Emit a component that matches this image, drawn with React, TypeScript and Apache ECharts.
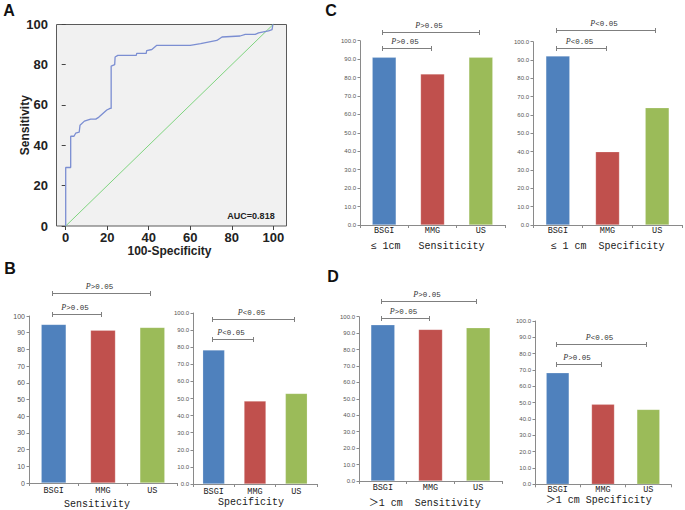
import React, { useEffect, useRef } from "react";
import * as echarts from "echarts";

// ---- Panel A: ROC curve ----
const ROC_X = [0, 0, 2.4, 2.4, 4, 4.8, 6.5, 6.9, 9, 12, 14.5, 16, 19.8, 21.4, 21.9, 21.9, 23.6, 23.8, 25.1, 34, 34.2, 38.8, 39, 41.5, 43.9, 60, 65, 72.8, 75.3, 84, 86.5, 91.3, 92.9, 97.7, 99.4, 99.8, 100];
const ROC_Y = [0, 29, 29, 44.5, 44.5, 46, 46.5, 50, 52, 53, 53, 54, 57.5, 58.3, 58.3, 79.3, 80, 83.8, 84.6, 84.6, 85.6, 85.6, 87, 87.5, 89.6, 89.6, 90.4, 92, 93.7, 94.2, 95, 95, 95.7, 96.7, 97.4, 100, 100];
const DIAG_X = [0, 100];
const DIAG_Y = [0, 100];
const AUC_TEXT = "AUC=0.818";

// ---- Bar panels ----
const MODALITIES = ["BSGI", "MMG", "US"];
const BAR_COLORS = ["#4f81bd", "#c0504d", "#9bbb59"];
const B_SENS = [95, 91.5, 93.2];
const B_SPEC = [78.4, 48.5, 53];
const C_SENS = [91, 82, 91];
const C_SPEC = [92.2, 40, 64];
const D_SENS = [95.1, 92.3, 93.3];
const D_SPEC = [68.3, 49, 45.9];
const PANEL_TITLES = ["Sensitivity", "Specificity", "≤ 1cm   Sensiticity", "≤ 1 cm  Specificity", "＞1 cm  Sensitivity", "＞1 cm Specificity"];
// brackets: [fromIndex, toIndex, level (axis units), label]
const B_SENS_BR: [number, number, number, string][] = [[0, 2, 114, "P>0.05"], [0, 1, 101.2, "P>0.05"]];
const B_SPEC_BR: [number, number, number, string][] = [[0, 2, 96.3, "P<0.05"], [0, 1, 84.6, "P<0.05"]];
const C_SENS_BR: [number, number, number, string][] = [[0, 2, 104.6, "P>0.05"], [0, 1, 96.2, "P>0.05"]];
const C_SPEC_BR: [number, number, number, string][] = [[0, 2, 106.4, "P<0.05"], [0, 1, 96.4, "P<0.05"]];
const D_SENS_BR: [number, number, number, string][] = [[0, 2, 109.7, "P>0.05"], [0, 1, 99.4, "P>0.05"]];
const D_SPEC_BR: [number, number, number, string][] = [[0, 2, 85.7, "P<0.05"], [0, 1, 73.7, "P>0.05"]];
const PANEL_LETTERS = ["A", "B", "C", "D"];

const PANELS = [
  { values: B_SENS, brackets: B_SENS_BR, title: PANEL_TITLES[0], layout: { left: 29, top: 316, width: 148, height: 167 }, barWidth: 25, intLabels: true, labelMargin: 4, titlePos: [97, 504] },
  { values: B_SPEC, brackets: B_SPEC_BR, title: PANEL_TITLES[1], layout: { left: 193, top: 313, width: 124, height: 171 }, barWidth: 22, intLabels: false, labelMargin: 4, titlePos: [251, 502] },
  { values: C_SENS, brackets: C_SENS_BR, title: PANEL_TITLES[2], layout: { left: 360, top: 40.7, width: 145, height: 184.3 }, barWidth: 24, intLabels: false, labelMargin: 1.5, titlePos: [427.5, 246] },
  { values: C_SPEC, brackets: C_SPEC_BR, title: PANEL_TITLES[3], layout: { left: 533, top: 41.7, width: 149, height: 183.3 }, barWidth: 24, intLabels: false, labelMargin: 1.5, titlePos: [607.5, 246] },
  { values: D_SENS, brackets: D_SENS_BR, title: PANEL_TITLES[4], layout: { left: 359, top: 316.7, width: 143, height: 164.3 }, barWidth: 24, intLabels: false, labelMargin: 3, titlePos: [424.7, 503] },
  { values: D_SPEC, brackets: D_SPEC_BR, title: PANEL_TITLES[5], layout: { left: 535, top: 321, width: 136, height: 163.3 }, barWidth: 23, intLabels: false, labelMargin: 1, titlePos: [598.8, 500.7] },
];
const LETTER_POS = [[9, 10], [10, 268], [331, 10], [333, 276]];

const SANS = "'Liberation Sans', Arial, sans-serif";
const MONO = "'Liberation Mono', 'Noto Sans CJK SC', monospace";
const AXIS_GRAY = "#8a8a8a";

export default function App() {
  const ref = useRef<HTMLDivElement>(null);
  useEffect(() => {
    if (!ref.current) return;
    const chart = echarts.init(ref.current, null, { renderer: "svg" });

    const grids: any[] = [
      { left: 65.7, top: 24.3, width: 207.6, height: 201.7, outerBoundsMode: "none", containLabel: false },
    ];
    const xAxes: any[] = [
      {
        type: "value", gridIndex: 0, min: 0, max: 100, interval: 20,
        axisLine: { show: false },
        axisTick: { show: true, length: 4, lineStyle: { color: "#444" } },
        axisLabel: { show: true, margin: 5, fontSize: 13, fontWeight: "bold", fontFamily: SANS, color: "#222", showMinLabel: true, showMaxLabel: true },
        splitLine: { show: false },
        name: "100-Specificity", nameLocation: "middle", nameGap: 19, nameMoveOverlap: false,
        nameTextStyle: { fontSize: 12, fontWeight: "bold", fontFamily: SANS, color: "#222" },
      },
    ];
    const yAxes: any[] = [
      {
        type: "value", gridIndex: 0, min: 0, max: 100, interval: 20, offset: 9.7,
        axisLine: { show: false },
        axisTick: { show: true, length: 4, lineStyle: { color: "#444" } },
        axisLabel: { show: true, margin: 8, fontSize: 13, fontWeight: "bold", fontFamily: SANS, color: "#222", showMinLabel: true, showMaxLabel: true },
        splitLine: { show: false },
        name: "Sensitivity", nameLocation: "middle", nameGap: 25, nameMoveOverlap: false,
        nameTextStyle: { fontSize: 12, fontWeight: "bold", fontFamily: SANS, color: "#222" },
      },
    ];
    const series: any[] = [
      {
        type: "line", xAxisIndex: 0, yAxisIndex: 0, z: 3,
        data: DIAG_X.map((x, i) => [x, DIAG_Y[i]]),
        showSymbol: false, symbol: "none", clip: false,
        lineStyle: { color: "#7fd47f", width: 1 },
      },
      {
        type: "line", xAxisIndex: 0, yAxisIndex: 0, z: 4,
        data: ROC_X.map((x, i) => [x, ROC_Y[i]]),
        showSymbol: false, symbol: "none", clip: false,
        lineStyle: { color: "#7b8ed2", width: 1.3 },
      },
    ];

    PANELS.forEach((p, k) => {
      const g = k + 1;
      grids.push({ ...p.layout, outerBoundsMode: "none", containLabel: false });
      xAxes.push({
        type: "category", gridIndex: g, data: MODALITIES, boundaryGap: true,
        axisLine: { show: true, lineStyle: { color: AXIS_GRAY, width: 1 } },
        axisTick: { show: true, length: 3, inside: false, alignWithLabel: false, lineStyle: { color: AXIS_GRAY } },
        axisLabel: { show: true, margin: p.labelMargin, fontSize: 8.5, fontFamily: MONO, color: "#1a1a1a", interval: 0 },
        splitLine: { show: false },
      });
      yAxes.push({
        type: "value", gridIndex: g, min: 0, max: 100, interval: 10,
        axisLine: { show: true, lineStyle: { color: AXIS_GRAY, width: 1 } },
        axisTick: { show: true, length: 2.5, inside: false, lineStyle: { color: AXIS_GRAY } },
        axisLabel: {
          show: true, margin: 4, fontSize: p.intLabels ? 7 : 6, fontFamily: SANS, color: "#555",
          showMinLabel: true, showMaxLabel: true,
          formatter: (v: number) => (p.intLabels ? String(Math.round(v)) : v.toFixed(1)),
        },
        splitLine: { show: false },
      });
      series.push({
        type: "bar", xAxisIndex: g, yAxisIndex: g, barWidth: p.barWidth,
        data: p.values.map((v, i) => ({ value: v, itemStyle: { color: BAR_COLORS[i] } })),
        itemStyle: { borderColor: "rgba(255,255,255,0.35)", borderWidth: 0.6 },
        label: { show: false },
      });
    });

    chart.setOption({
      animation: false,
      backgroundColor: "#ffffff",
      grid: grids,
      xAxis: xAxes,
      yAxis: yAxes,
      series,
      tooltip: { show: false },
    });

    const graphics: any[] = [];
    // ROC plot box
    graphics.push({
      type: "rect", z: -10, silent: true,
      shape: { x: 56.5, y: 24.5, width: 230, height: 201.5 },
      style: { fill: "#f1f1f1", stroke: "#5a5a5a", lineWidth: 1 },
    });
    graphics.push({
      type: "text", z: 20, x: 251, y: 216,
      style: { text: AUC_TEXT, fontSize: 9, fontWeight: "bold", fontFamily: SANS, fill: "#222", align: "center", verticalAlign: "middle", textAlign: "center", textVerticalAlign: "middle" },
    });
    PANEL_LETTERS.forEach((L, i) => {
      graphics.push({
        type: "text", z: 20, x: LETTER_POS[i][0], y: LETTER_POS[i][1],
        style: { text: L, fontSize: 16, fontWeight: "bold", fontFamily: SANS, fill: "#111", align: "center", verticalAlign: "middle", textAlign: "center", textVerticalAlign: "middle" },
      });
    });

    PANELS.forEach((p, k) => {
      const g = k + 1;
      graphics.push({
        type: "text", z: 20, x: p.titlePos[0], y: p.titlePos[1],
        style: { text: p.title, fontSize: 10, fontFamily: MONO, fill: "#1a1a1a", align: "center", verticalAlign: "middle", textAlign: "center", textVerticalAlign: "middle" },
      });
      p.brackets.forEach(([from, to, level, label]) => {
        const a = chart.convertToPixel({ gridIndex: g } as any, [from, level]) as number[];
        const b = chart.convertToPixel({ gridIndex: g } as any, [to, level]) as number[];
        const x1 = Math.round(a[0] - 2) + 0.5;
        const x2 = Math.round(b[0] - 2) + 0.5;
        const y = Math.round(a[1]) + 0.5;
        const st = { stroke: "#7f7f7f", lineWidth: 1 };
        graphics.push({ type: "line", z: 15, shape: { x1, y1: y, x2, y2: y }, style: st });
        graphics.push({ type: "line", z: 15, shape: { x1, y1: y - 2.5, x2: x1, y2: y + 2.5 }, style: st });
        graphics.push({ type: "line", z: 15, shape: { x1: x2, y1: y - 2.5, x2, y2: y + 2.5 }, style: st });
        const rest = label.slice(1);
        graphics.push({
          type: "text", z: 20, x: (x1 + x2) / 2 - 2, y: y - 7,
          style: {
            text: "{p|P}{r|" + rest + "}",
            align: "center", verticalAlign: "middle", textAlign: "center", textVerticalAlign: "middle",
            rich: {
              p: { fontStyle: "italic", fontFamily: "'Liberation Serif', serif", fontSize: 8, fill: "#333", color: "#333" },
              r: { fontFamily: MONO, fontSize: 7.5, fill: "#333", color: "#333" },
            },
          },
        });
      });
    });

    chart.setOption({ graphic: graphics });
    return () => chart.dispose();
  }, []);
  return <div ref={ref} style={{ position: "absolute", left: 0, top: 0, width: 685, height: 510 }} />;
}
